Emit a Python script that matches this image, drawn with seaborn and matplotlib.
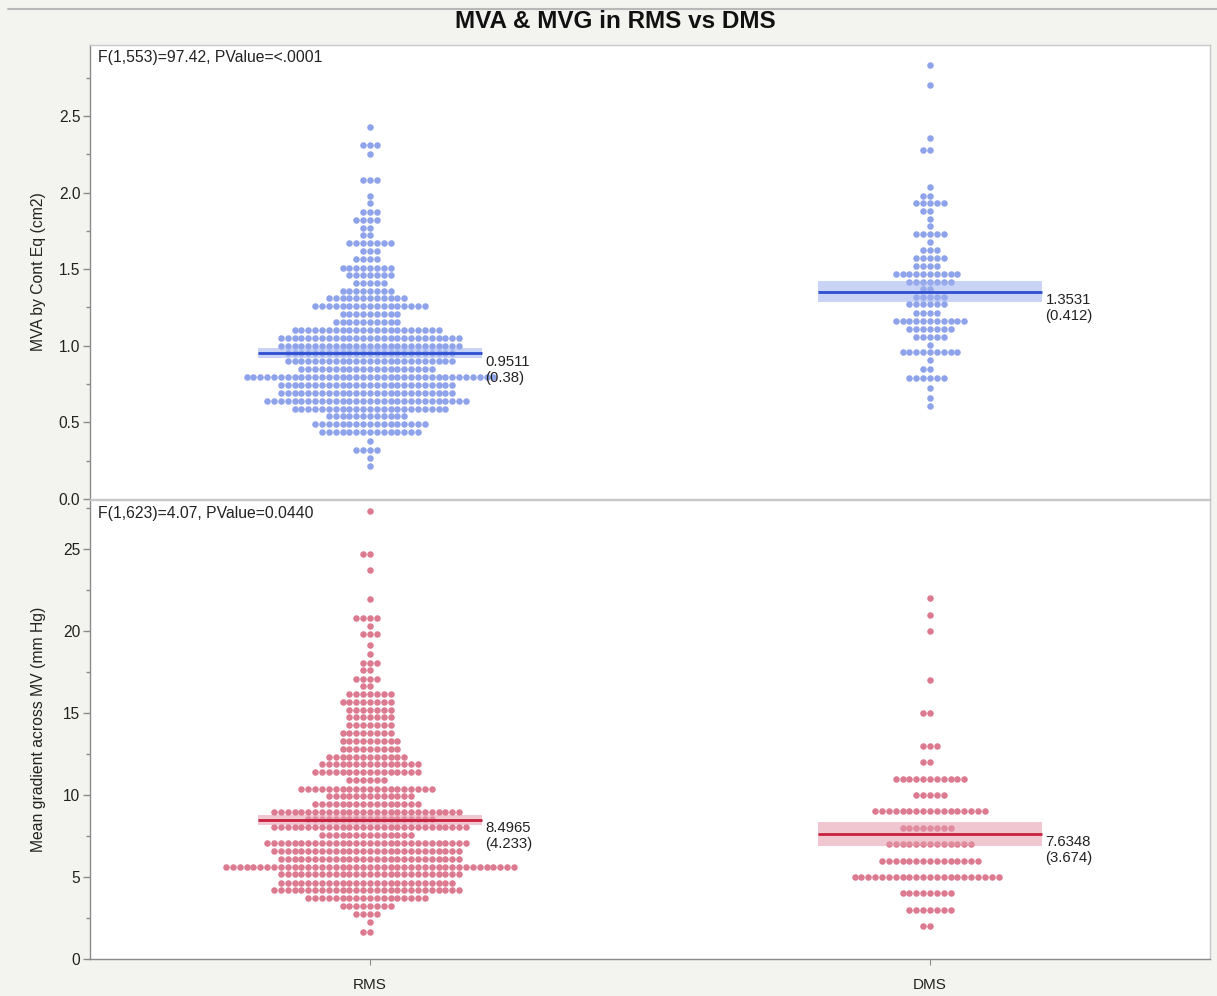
import numpy as np
import pandas as pd
import matplotlib
matplotlib.use("Agg")
import matplotlib.pyplot as plt
from matplotlib.ticker import MultipleLocator, FormatStrFormatter
from matplotlib.lines import Line2D
import seaborn as sns

# Datos: valor de cada fila del enjambre y cuantos puntos tiene
groups = ["RMS", "DMS"]

mva_rms_vals = [2.43, 2.31, 2.25, 2.08, 1.98, 1.93, 1.875, 1.82, 1.77, 1.72, 1.67, 1.62, 1.565,
                1.51, 1.46, 1.41, 1.36, 1.31, 1.26, 1.205, 1.155, 1.10, 1.053, 1.00, 0.95, 0.90,
                0.85, 0.795, 0.745, 0.695, 0.64, 0.59, 0.54, 0.49, 0.435, 0.38, 0.32, 0.27, 0.217]
mva_rms_counts = [1, 3, 1, 3, 1, 1, 3, 4, 2, 2, 7, 3, 4, 8, 7, 5, 8, 12, 17, 9,
                  10, 22, 27, 27, 25, 25, 20, 37, 26, 26, 30, 23, 12, 17, 15, 1, 4, 1, 1]

mva_dms_vals = [2.83, 2.70, 2.355, 2.28, 2.035, 1.98, 1.93, 1.88, 1.83, 1.78, 1.73, 1.675, 1.625,
                1.57, 1.52, 1.47, 1.415, 1.37, 1.32, 1.27, 1.215, 1.16, 1.11, 1.06, 1.007, 0.957,
                0.907, 0.847, 0.788, 0.727, 0.66, 0.607]
mva_dms_counts = [1, 1, 1, 2, 1, 2, 5, 2, 1, 1, 5, 1, 3, 5, 4, 10, 7, 2, 5, 6,
                  4, 11, 7, 5, 1, 9, 1, 2, 6, 1, 1, 1]

mvg_rms_vals = [27.3, 24.7, 23.7, 21.95, 20.8, 20.3, 19.8, 19.15, 18.6, 18.07, 17.6, 17.1, 16.66,
                16.18, 15.7, 15.2, 14.75, 14.27, 13.8, 13.3, 12.8, 12.3, 11.9, 11.4, 10.9, 10.4,
                9.94, 9.45, 8.98, 8.52, 8.03, 7.56, 7.05, 6.59, 6.1, 5.63, 5.16, 4.65, 4.2, 3.7,
                3.23, 2.76, 2.27, 1.66]
mvg_rms_counts = [1, 2, 1, 1, 4, 1, 3, 1, 1, 3, 2, 4, 2, 7, 8, 7, 7, 7, 8, 9,
                  9, 12, 15, 16, 6, 20, 13, 16, 28, 19, 29, 14, 30, 28, 27, 43, 27, 26, 28, 18,
                  8, 4, 1, 2]

mvg_dms_vals = [22, 21, 20, 17, 15, 13, 12, 11, 10, 9, 8, 7, 6, 5, 4, 3, 2]
mvg_dms_counts = [1, 1, 1, 1, 2, 3, 2, 11, 5, 17, 8, 13, 15, 22, 8, 7, 2]

# medias, desviaciones y semiancho del intervalo (tal como aparecen)
mva_means = [0.9511, 1.3531]
mva_sds = ["0.38", "0.412"]
mva_ci = [0.033, 0.07]
mvg_means = [8.4965, 7.6348]
mvg_sds = ["4.233", "3.674"]
mvg_ci = [0.31, 0.75]

stat_top = "F(1,553)=97.42, PValue=<.0001"
stat_bottom = "F(1,623)=4.07, PValue=0.0440"


def expand(vals_a, counts_a, vals_b, counts_b, col):
    a = np.repeat(vals_a, counts_a)
    b = np.repeat(vals_b, counts_b)
    return pd.DataFrame({"group": [groups[0]] * len(a) + [groups[1]] * len(b),
                         col: np.concatenate([a, b])})


df_mva = expand(mva_rms_vals, mva_rms_counts, mva_dms_vals, mva_dms_counts, "mva")
df_mvg = expand(mvg_rms_vals, mvg_rms_counts, mvg_dms_vals, mvg_dms_counts, "mvg")

sns.set_style("white")
plt.rcParams["font.family"] = ["Liberation Sans", "DejaVu Sans"]

W, H = 1217, 996
fig = plt.figure(figsize=(W / 100, H / 100), dpi=100, facecolor="#F3F3EF")
ax1 = fig.add_axes([90 / W, 1 - 499 / H, 1120 / W, 454 / H])
ax2 = fig.add_axes([90 / W, 1 - 959 / H, 1120 / W, 459 / H])

# borde superior de la ventana
fig.add_artist(Line2D([8 / W, 1], [1 - 9 / H, 1 - 9 / H], color="#B8B8B8", linewidth=1.5))

blue_dot, blue_line, blue_band = "#8EA3EA", "#2E4FD2", "#9DB0EE"
red_dot, red_line, red_band = "#DC7B90", "#C6203F", "#E59AAB"

sns.swarmplot(data=df_mva, x="group", y="mva", order=groups, ax=ax1,
              color=blue_dot, size=4.7, linewidth=0)
sns.swarmplot(data=df_mvg, x="group", y="mvg", order=groups, ax=ax2,
              color=red_dot, size=4.7, linewidth=0)


def mean_marks(ax, means, sds, ci, line_c, band_c):
    for i, (m, s, c) in enumerate(zip(means, sds, ci)):
        ax.fill_between([i - 0.2, i + 0.2], m - c, m + c, color=band_c,
                        alpha=0.55, linewidth=0, zorder=5)
        ax.hlines(m, i - 0.2, i + 0.2, color=line_c, linewidth=2, zorder=6)
        ax.annotate(f"{m:.4f}\n({s})", xy=(i + 0.2, m), xytext=(2.5, -1),
                    textcoords="offset points", ha="left", va="top",
                    fontsize=10.7, linespacing=1.2, color="#222222")


mean_marks(ax1, mva_means, mva_sds, mva_ci, blue_line, blue_band)
mean_marks(ax2, mvg_means, mvg_sds, mvg_ci, red_line, red_band)

ax1.set_ylim(0, 2.963)
ax1.yaxis.set_major_locator(MultipleLocator(0.5))
ax1.yaxis.set_minor_locator(MultipleLocator(0.25))
ax1.yaxis.set_major_formatter(FormatStrFormatter("%.1f"))
ax2.set_ylim(0, 28)
ax2.yaxis.set_major_locator(MultipleLocator(5))
ax2.yaxis.set_minor_locator(MultipleLocator(2.5))

for ax in (ax1, ax2):
    ax.set_xlim(-0.5, 1.5)
    ax.set_facecolor("white")
    for side, sp in ax.spines.items():
        sp.set_color("#C8C8C8")
        sp.set_linewidth(1)
    ax.spines["left"].set_color("#8A8A8A")
    ax.tick_params(axis="y", which="major", left=True, length=5, width=1,
                   color="#8A8A8A", labelsize=11.2, labelcolor="#222222", pad=2)
    ax.tick_params(axis="y", which="minor", left=True, length=3, width=1, color="#8A8A8A")
    ax.set_xlabel("")

ax1.tick_params(axis="x", bottom=False, labelbottom=False)
ax2.spines["bottom"].set_color("#8A8A8A")
ax2.tick_params(axis="x", bottom=True, length=4, color="#8A8A8A", labelsize=11,
                labelcolor="#222222", pad=10)

ax1.set_ylabel("MVA by Cont Eq (cm2)", fontsize=11.3, color="#222222")
ax2.set_ylabel("Mean gradient across MV (mm Hg)", fontsize=11.3, color="#222222")
ax1.yaxis.set_label_coords(-0.039, 0.5)
ax2.yaxis.set_label_coords(-0.039, 0.5)

ax1.text(0.007, 0.988, stat_top, transform=ax1.transAxes, ha="left", va="top",
         fontsize=11.3, color="#222222")
ax2.text(0.007, 0.988, stat_bottom, transform=ax2.transAxes, ha="left", va="top",
         fontsize=11.3, color="#222222")

fig.text(615 / W, 1 - 22 / H, "MVA & MVG in RMS vs DMS", ha="center", va="center",
         fontsize=17.5, fontweight="bold", color="#111111",
         family=["Liberation Sans Narrow", "Liberation Sans", "DejaVu Sans"])

fig.savefig("out.png", dpi=100, facecolor=fig.get_facecolor())
